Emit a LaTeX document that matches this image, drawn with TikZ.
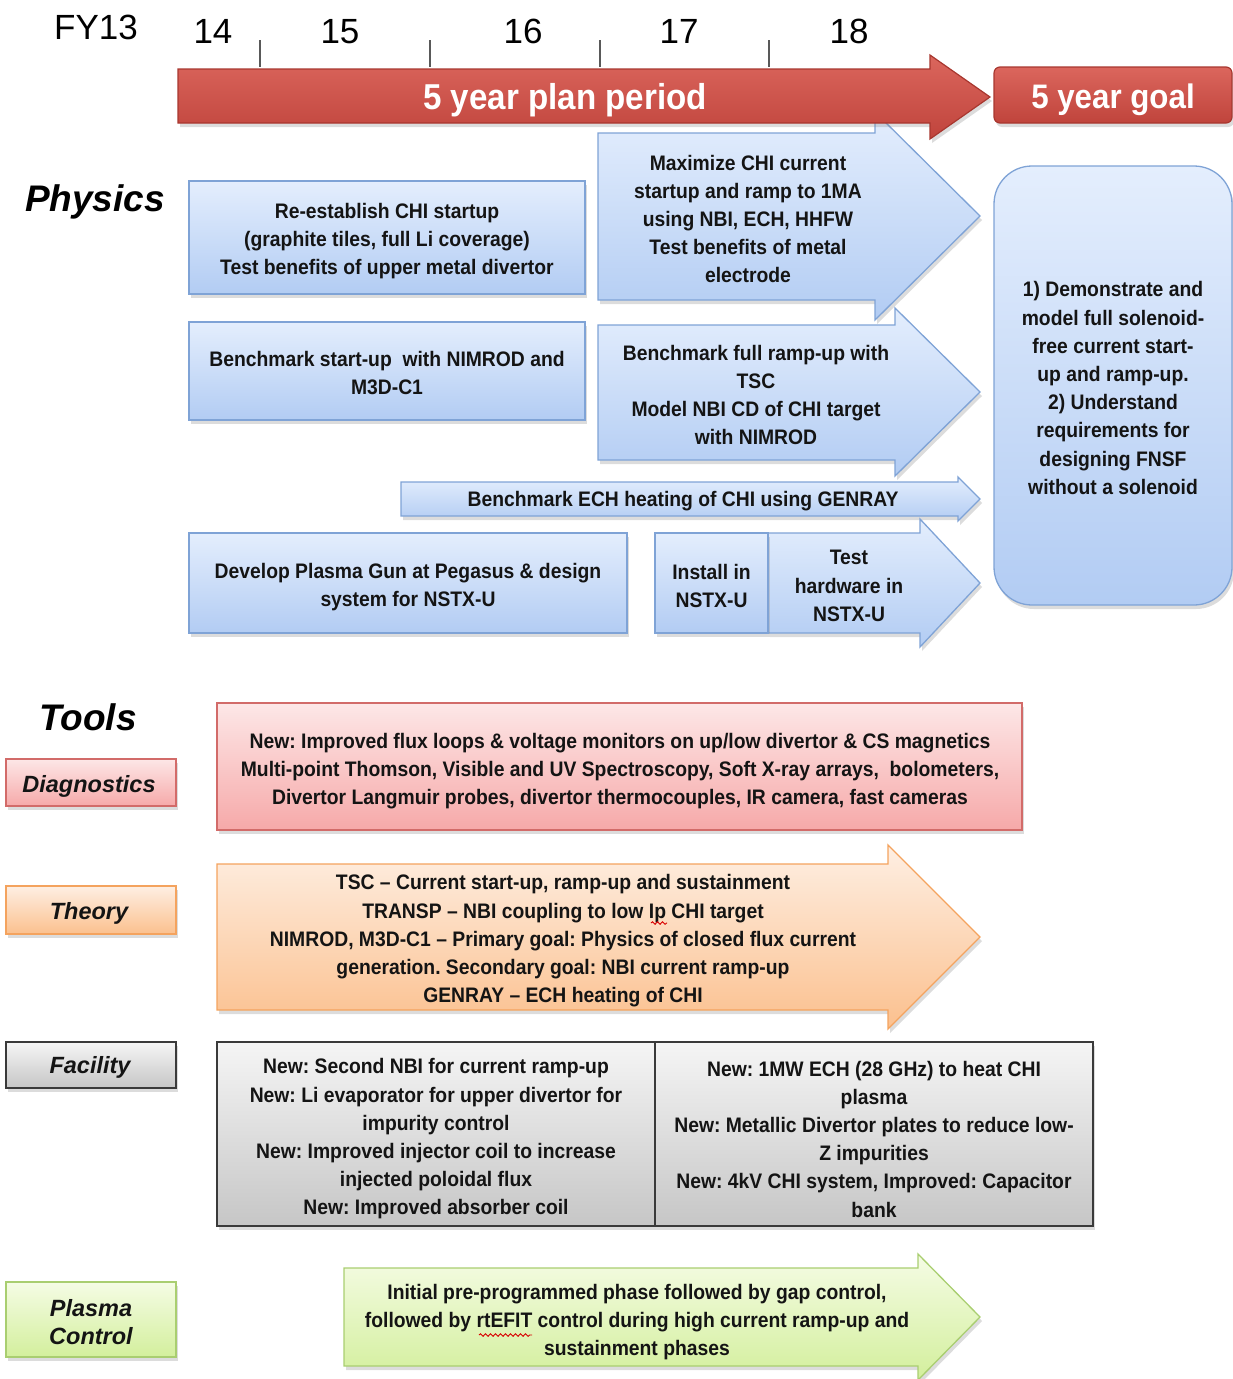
\documentclass[tikz,border=0pt]{standalone}
\usepackage{fontspec}
\setmainfont{Liberation Sans}
\newfontfamily\nar[FakeStretch=0.92,Ligatures=TeX]{Liberation Sans}
\usetikzlibrary{shadows,decorations.pathmorphing}
\definecolor{bluetop}{HTML}{E4EEFD}
\definecolor{bluebot}{HTML}{B2CCF3}
\definecolor{blueline}{HTML}{7FA3D6}
\definecolor{redtop}{HTML}{DB665D}
\definecolor{redbot}{HTML}{C0443C}
\definecolor{redline}{HTML}{A8372F}
\definecolor{pinktop}{HTML}{FDE7E7}
\definecolor{pinkbot}{HTML}{F6A9A9}
\definecolor{pinkline}{HTML}{D26B69}
\definecolor{orgtop}{HTML}{FEEFE3}
\definecolor{orgbot}{HTML}{FBC08E}
\definecolor{orgline}{HTML}{F4A35E}
\definecolor{graytop}{HTML}{F5F5F5}
\definecolor{graybot}{HTML}{C6C6C6}
\definecolor{grayline}{HTML}{3A3A3A}
\definecolor{grntop}{HTML}{F5FCE5}
\definecolor{grnbot}{HTML}{D3EF9C}
\definecolor{grnline}{HTML}{A9CE70}
\definecolor{txtcol}{HTML}{141414}
\tikzset{
  shad/.style={drop shadow={shadow xshift=2pt,shadow yshift=-4pt,opacity=0.28}},
  bluebox/.style={shad,top color=bluetop,bottom color=bluebot,draw=blueline,line width=1.3pt,inner sep=0pt},
  redbox/.style={shad,top color=redtop,bottom color=redbot,draw=redline,line width=1.2pt,inner sep=0pt},
  pinkbox/.style={shad,top color=pinktop,bottom color=pinkbot,draw=pinkline,line width=1.3pt,inner sep=0pt},
  orgbox/.style={shad,top color=orgtop,bottom color=orgbot,draw=orgline,line width=1.3pt,inner sep=0pt},
  graybox/.style={shad,top color=graytop,bottom color=graybot,draw=grayline,line width=1.3pt,inner sep=0pt},
  grnbox/.style={shad,top color=grntop,bottom color=grnbot,draw=grnline,line width=1.3pt,inner sep=0pt},
  txt/.style={font=\nar\bfseries\frenchspacing\fontsize{21}{28.2}\selectfont,align=center,text=txtcol,inner sep=0pt},
  lbl/.style={font=\bfseries\itshape\fontsize{23.5}{28}\selectfont,align=center,text=txtcol,inner sep=0pt},
  head/.style={font=\bfseries\itshape\fontsize{37}{40}\selectfont,text=black,inner sep=0pt},
  yr/.style={font=\fontsize{35}{38}\selectfont,text=black,inner sep=0pt,anchor=base},
  tickln/.style={draw=black!65,line width=1.6pt},
  wavy/.style={draw=red!85!black,line width=0.9pt,decorate,decoration={snake,amplitude=1.3pt,segment length=5pt}}
}
\begin{document}
\begin{tikzpicture}[x=1pt,y=-1pt]
\useasboundingbox (0,0) rectangle (1233,1379);
% year labels
\node[yr] (fy13) at (96,39) {FY13};
\node[yr] (y14) at (213,43) {14};
\node[yr] (y15) at (340,43) {15};
\node[yr] (y16) at (523,43) {16};
\node[yr] (y17) at (679,43) {17};
\node[yr] (y18) at (849,43) {18};
\draw[tickln] (260,40) -- (260,67);
\draw[tickln] (430,40) -- (430,67);
\draw[tickln] (600,40) -- (600,67);
\draw[tickln] (769,40) -- (769,67);
% Physics
\node[head] (physics) at (95,202) {Physics};
% blue arrow behind red arrow
\path[bluebox] (598,133) -- (875,133) -- (875,112) -- (980,216) -- (875,320) -- (875,300) -- (598,300) -- cycle;
\node[txt] (maxi) at (748,219) {Maximize CHI current\\startup and ramp to 1MA\\using NBI, ECH, HHFW\\Test benefits of metal\\electrode};
% red arrow
\path[redbox] (178,69) -- (930,69) -- (930,55) -- (990,97) -- (930,139) -- (930,123) -- (178,123) -- cycle;
\node[font=\nar\bfseries\fontsize{36}{40}\selectfont,text=white,inner sep=0pt] (plan) at (565,100) {5 year plan period};
\node[redbox,rounded corners=6pt,minimum width=238pt,minimum height=56pt] (goalhdr) at (1113,95) {};
\node[font=\nar\bfseries\fontsize{34}{38}\selectfont,text=white,inner sep=0pt] (goalhdrtxt) at (1113,100) {5 year goal};
% physics boxes
\node[bluebox,minimum width=396pt,minimum height=113pt] (reest) at (387,237.5) {};
\node[txt] (reesttxt) at (387,241) {Re-establish CHI startup\\(graphite tiles, full Li coverage)\\Test benefits of upper metal divertor};
\node[bluebox,minimum width=396pt,minimum height=98pt] (bench) at (387,371) {};
\node[txt] (benchtxt) at (387,373) {Benchmark start-up\ \ with NIMROD and\\M3D-C1};
\path[bluebox] (598,325) -- (895,325) -- (895,308) -- (980,392) -- (895,476) -- (895,460) -- (598,460) -- cycle;
\node[txt] (ramp) at (756,395) {Benchmark full ramp-up with\\TSC\\Model NBI CD of CHI target\\with NIMROD};
\path[bluebox] (401,482) -- (958,482) -- (958,477) -- (980,499) -- (958,521) -- (958,516) -- (401,516) -- cycle;
\node[txt] (ech) at (683,501) {Benchmark ECH heating of CHI using GENRAY};
\node[bluebox,minimum width=438pt,minimum height=100pt] (gun) at (408,583) {};
\node[txt] (guntxt) at (408,587) {Develop Plasma Gun at Pegasus \& design\\system for NSTX-U};
\path[bluebox] (768,533) -- (920,533) -- (920,519) -- (980,583) -- (920,647) -- (920,633) -- (768,633) -- cycle;
\node[bluebox,minimum width=113pt,minimum height=100pt] (install) at (711.5,583) {};
\node[txt] (installtxt) at (711.5,586) {Install in\\NSTX-U};
\node[txt] (testhw) at (849,586) {Test\\hardware in\\NSTX-U};
\node[bluebox,rounded corners=38pt,minimum width=238pt,minimum height=439pt] (goal) at (1113,385.5) {};
\node[txt] (goaltxt) at (1113,388) {1) Demonstrate and\\model full solenoid-\\free current start-\\up and ramp-up.\\2) Understand\\requirements for\\designing FNSF\\without a solenoid};
% Tools
\node[head] (tools) at (88,717) {Tools};
\node[pinkbox,minimum width=170pt,minimum height=47pt] (diaglbl) at (91,782.5) {};
\node[lbl] (diaglbltxt) at (89,786) {Diagnostics};
\node[pinkbox,minimum width=805pt,minimum height=127pt] (diag) at (619.5,766.5) {};
\node[txt] (diagtxt) at (620,771)
  {New: Improved flux loops \& voltage monitors on up/low divertor \& CS magnetics\\Multi-point Thomson, Visible and UV Spectroscopy, Soft X-ray arrays,\ \ bolometers,\\Divertor Langmuir probes, divertor thermocouples, IR camera, fast cameras};
\node[orgbox,minimum width=170pt,minimum height=48pt] (theorylbl) at (91,910) {};
\node[lbl] (theorylbltxt) at (89,913) {Theory};
\path[orgbox] (217,864) -- (888,864) -- (888,845) -- (980,937) -- (888,1029) -- (888,1010) -- (217,1010) -- cycle;
\node[txt] (theory) at (563,941) {TSC \textendash\ Current start-up, ramp-up and sustainment\\TRANSP \textendash\ NBI coupling to low Ip CHI target\\NIMROD, M3D-C1 \textendash\ Primary goal: Physics of closed flux current\\generation. Secondary goal: NBI current ramp-up\\GENRAY \textendash\ ECH heating of CHI};
\draw[wavy] (651,923) -- (667,923);
\node[graybox,minimum width=170pt,minimum height=46pt] (faclbl) at (91,1065) {};
\node[lbl] (faclbltxt) at (90,1067) {Facility};
\node[graybox,minimum width=438pt,minimum height=184pt] (facL) at (436,1134) {};
\node[txt] (facLtxt) at (436,1139)
  {New: Second NBI for current ramp-up\\New: Li evaporator for upper divertor for\\impurity control\\New: Improved injector coil to increase\\injected poloidal flux\\New: Improved absorber coil};
\node[graybox,minimum width=438pt,minimum height=184pt] (facR) at (874,1134) {};
\node[txt] (facRtxt) at (874,1139)
  {New: 1MW ECH (28 GHz) to heat CHI\\plasma\\New: Metallic Divertor plates to reduce low-\\Z impurities\\New: 4kV CHI system, Improved: Capacitor\\bank};
\node[grnbox,minimum width=170pt,minimum height=75pt] (pclbl) at (91,1319.5) {};
\node[lbl] (pclbltxt) at (91,1322) {Plasma\\Control};
\path[grnbox] (344,1268) -- (918,1268) -- (918,1254) -- (980,1317) -- (918,1380) -- (918,1366) -- (344,1366) -- cycle;
\node[txt] (pc) at (637,1322) {Initial pre-programmed phase followed by gap control,\\followed by rtEFIT control during high current ramp-up and\\sustainment phases};
\draw[wavy] (479,1335) -- (532,1335);
\end{tikzpicture}
\end{document}
